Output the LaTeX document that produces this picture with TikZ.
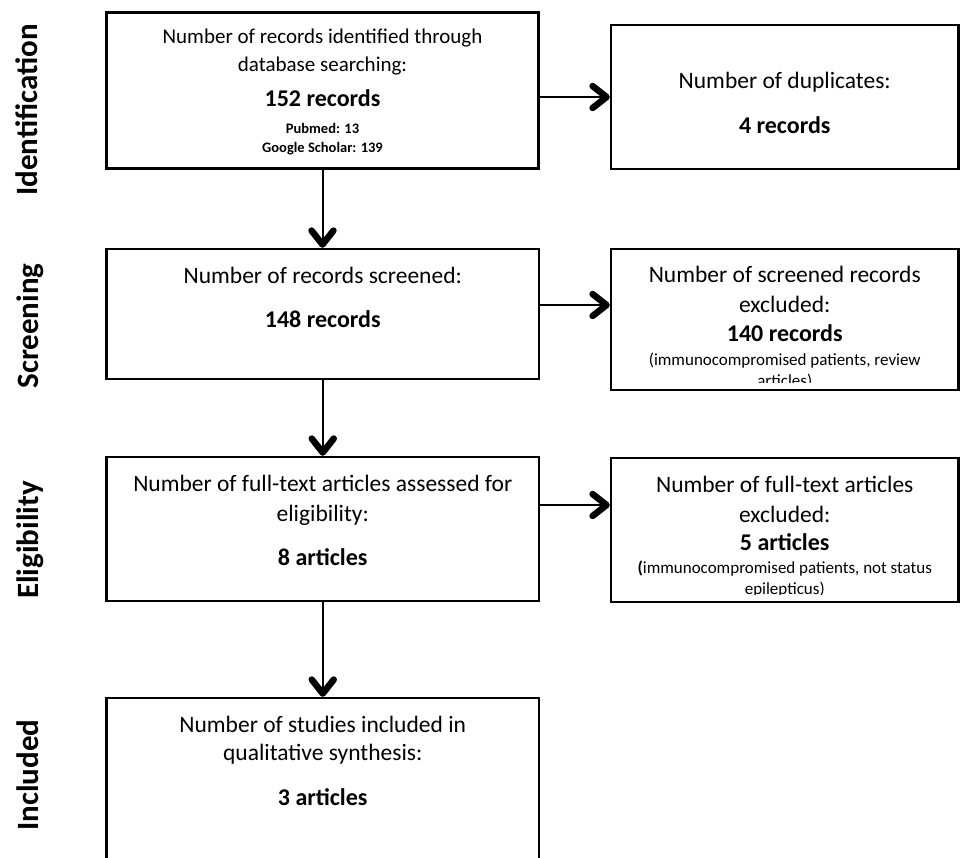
\documentclass[tikz,border=0pt]{standalone}
\usepackage{fontspec}
\setmainfont{Carlito}
\usetikzlibrary{arrows.meta}
\begin{document}
\begin{tikzpicture}[x=1pt,y=-1pt,
  box/.style={draw,line width=2.4pt,inner sep=0pt},
  txt/.style={anchor=base,inner sep=0pt,font=\fontsize{23.5}{28}\selectfont},
  txtsm/.style={anchor=base,inner sep=0pt,font=\fontsize{21}{25}\selectfont},
  cnt/.style={anchor=base,inner sep=0pt,font=\fontsize{24}{28}\selectfont\bfseries},
  src/.style={anchor=base,inner sep=0pt,font=\fontsize{14.5}{17}\selectfont\bfseries},
  note/.style={anchor=base,inner sep=0pt,font=\fontsize{17}{20}\selectfont},
  side/.style={rotate=90,anchor=base,inner sep=0pt,font=\fontsize{31}{36}\selectfont\bfseries},
  arr/.style={line width=2pt,-{Straight Barb[length=14pt,width=22pt,line width=4.5pt 1,round]}}]
\useasboundingbox (0,0) rectangle (960,857);
\clip (0,0) rectangle (960,857);

% side labels
\node[side] (sid) at (37,110) {Identification};
\node[side] (sscr) at (38,326) {Screening};
\node[side] (selg) at (38,540) {Eligibility};
\node[side] (sinc) at (38,775) {Included};

% boxes
\node[box,minimum width=432pt,minimum height=156pt] (b1) at (322.5,90.5) {};
\node[box,minimum width=347.5pt,minimum height=144pt] (d1) at (784.75,97) {};
\node[box,minimum width=432.5pt,minimum height=130pt] (b2) at (322.75,314) {};
\node[box,minimum width=347.5pt,minimum height=141pt] (d2) at (784.75,319.5) {};
\node[box,minimum width=432.5pt,minimum height=144pt] (b3) at (322.75,529) {};
\node[box,minimum width=347.5pt,minimum height=144pt] (d3) at (784.75,530) {};
\node[box,minimum width=432.5pt,minimum height=202pt] (b4) at (322.75,799) {};

% box 1 text
\node[txtsm] (t11) at (322.5,43) {Number of records identified through};
\node[txtsm] (t12) at (322.5,71) {database searching:};
\node[cnt] (t13) at (322.5,106) {152 records};
\node[src] (t14) at (322.5,133) {Pubmed: 13};
\node[src] (t15) at (322.5,152) {Google Scholar: 139};

% duplicates
\node[txt] (u11) at (784.75,88) {Number of duplicates:};
\node[cnt] (u12) at (784.75,133) {4 records};

% box 2
\node[txt] (t21) at (322.75,283) {Number of records screened:};
\node[cnt] (t22) at (322.75,327) {148 records};

% excluded 2
\begin{scope}
\clip (613.5,251.5) rectangle (956,382);
\node[txt] (u21) at (784.75,282) {Number of screened records};
\node[txt] (u22) at (784.75,312) {excluded:};
\node[cnt] (u23) at (784.75,341) {140 records};
\node[note] (u24) at (784.75,365) {(immunocompromised patients, review};
\node[note] (u25) at (784.75,386) {articles)};
\end{scope}

% box 3
\node[txt] (t31) at (322.75,491) {Number of full-text articles assessed for};
\node[txt] (t32) at (322.75,521) {eligibility:};
\node[cnt] (t33) at (322.75,565) {8 articles};

% excluded 3
\begin{scope}
\clip (613.5,460.5) rectangle (956,594);
\node[txt] (u31) at (784.75,492) {Number of full-text articles};
\node[txt] (u32) at (784.75,522) {excluded:};
\node[cnt] (u33) at (784.75,550) {5 articles};
\node[note] (u34) at (784.75,573) {\textbf{(}immunocompromised patients, not status};
\node[note] (u35) at (784.75,594) {epilepticus)};
\end{scope}

% box 4
\node[txt] (t41) at (322.75,732) {Number of studies included in};
\node[txt] (t42) at (322.75,760) {qualitative synthesis:};
\node[cnt] (t43) at (322.75,805) {3 articles};

% connectors
\coordinate (h1) at (0,97);
\coordinate (h2) at (0,305);
\coordinate (h3) at (0,505);
\draw[arr] (b1.east |- h1) -- (d1.west |- h1);
\draw[arr] (b2.east |- h2) -- (d2.west |- h2);
\draw[arr] (b3.east |- h3) -- (d3.west |- h3);
\draw[arr] (b1.south) -- (b1.south |- b2.north);
\draw[arr] (b2.south) -- (b2.south |- b3.north);
\draw[arr] (b3.south) -- (b3.south |- b4.north);
\end{tikzpicture}
\end{document}
